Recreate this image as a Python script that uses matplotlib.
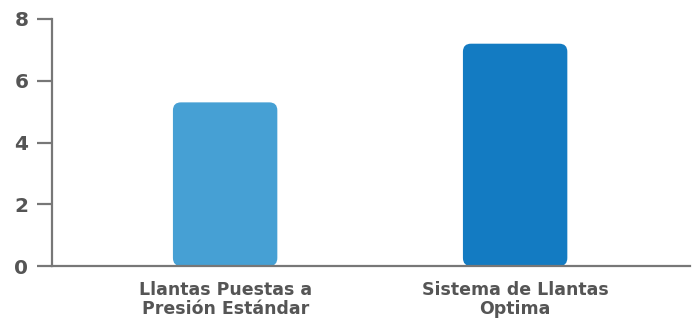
import matplotlib
matplotlib.use("Agg")
import matplotlib.pyplot as plt
from matplotlib.patches import FancyBboxPatch

categories = ["Llantas Puestas a\nPresión Estándar", "Sistema de Llantas\nOptima"]
values = [5.3, 7.2]
colors = ["#46A0D4", "#137BC2"]
yticks = [0, 2, 4, 6, 8]

W, H = 696, 322
fig = plt.figure(figsize=(W / 100, H / 100), dpi=100)
ax = fig.add_axes([52 / W, 56 / H, 638 / W, 247 / H])

x = list(range(len(categories)))
bars = ax.bar(x, values, width=0.36, color=colors)
ax.set_xlim(-0.597, 1.603)
ax.set_ylim(0, 8)

# swap plain bars for rounded ones
px_x = (1.603 + 0.597) / 638
px_y = 8 / 247
for b in bars:
    x0, y0 = b.get_x(), b.get_y()
    w, h = b.get_width(), b.get_height()
    rb = FancyBboxPatch(
        (x0, y0), w, h,
        boxstyle=f"round,pad=0,rounding_size={8 * px_x}",
        mutation_aspect=px_y / px_x,
        facecolor=b.get_facecolor(), edgecolor="none", zorder=2,
    )
    b.remove()
    ax.add_patch(rb)

for s in ["top", "right"]:
    ax.spines[s].set_visible(False)
for s in ["left", "bottom"]:
    ax.spines[s].set_color("#777777")
    ax.spines[s].set_linewidth(1.6)
    ax.spines[s].set_zorder(3)

ax.set_yticks(yticks)
ax.set_yticklabels([str(t) for t in yticks])
ax.tick_params(axis="y", length=11, width=1.6, color="#777777", pad=6,
               labelsize=14.5, labelcolor="#555555")
for lbl in ax.get_yticklabels():
    lbl.set_fontweight("bold")

# category labels as centred text (tick labels won't centre each line)
ax.set_xticks([])
for xi, cat in zip(x, categories):
    ax.annotate(cat, xy=(xi, 0), xycoords=("data", "axes fraction"),
                xytext=(0, -11), textcoords="offset points",
                ha="center", va="top", multialignment="center",
                fontsize=12.5, fontweight="bold", color="#555555",
                linespacing=1.05)

plt.savefig("out.png", dpi=100)
